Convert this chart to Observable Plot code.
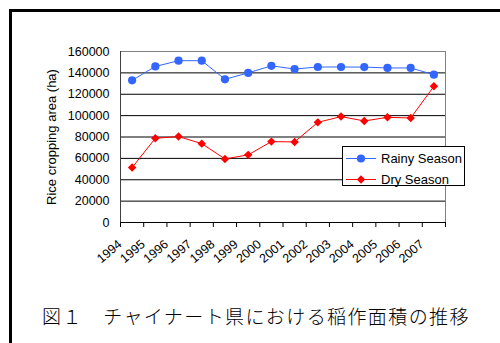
<!DOCTYPE html>
<html><head><meta charset="utf-8">
<script src="https://cdn.jsdelivr.net/npm/d3@7"></script>
<script src="https://cdn.jsdelivr.net/npm/@observablehq/plot@0.6"></script>
<style>
html,body{margin:0;padding:0;background:#fff;width:500px;height:343px;overflow:hidden}
#wrap{position:relative;width:500px;height:343px;font-family:"Liberation Sans",Arial,sans-serif;color:#000}
#border{position:absolute;left:9px;top:9px;width:700px;height:700px;border-left:3px solid #000;border-top:3px solid #000;box-sizing:border-box}
#chart{position:absolute;left:0;top:0}
#ytitle{position:absolute;left:51px;top:137px;transform:translate(-50%,-50%) rotate(-90deg);font-size:13px;white-space:nowrap}
#legend{position:absolute;left:342px;top:146px;width:121px;height:38px;border:1px solid #000;background:#fff}
#legend .row{position:absolute;left:0;height:16px;line-height:16px;font-size:13px;white-space:nowrap}
#legend svg{position:absolute;left:0;top:0}
#caption{position:absolute;left:42px;top:305px;font-family:"Noto Sans CJK JP",sans-serif;font-weight:300;font-size:19px;line-height:22px;letter-spacing:1.4px;white-space:nowrap;color:#000}
</style>
</head><body>
<div id="wrap">
  <div id="border"></div>
  <div id="chart"></div>
  <div id="ytitle"></div>
  <div id="legend"></div>
  <div id="caption"></div>
</div>
<script>
const years = ["1994","1995","1996","1997","1998","1999","2000","2001","2002","2003","2004","2005","2006","2007"];
const rainy = [133000,146000,151400,151400,134000,140000,146600,143600,145500,145500,145400,144600,144600,138300];
const dry = [51400,78800,80400,73800,59500,63300,75700,75400,93700,99100,95000,98400,97800,127400];
const yTicks = [0,20000,40000,60000,80000,100000,120000,140000,160000];
const seriesNames = ["Rainy Season","Dry Season"];
const seriesColors = ["#3366ff","#ff0000"];
const yTitle = "Rice cropping area (ha)";
const captionText = "図１　チャイナート県における稲作面積の推移";

const rows = years.map((y, i) => ({i, year: y, rainy: rainy[i], dry: dry[i]}));
const boundaries = d3.range(years.length + 1);
const cx = d => d.i + 0.5;

const chart = Plot.plot({
  width: 500,
  height: 300,
  marginLeft: 120,
  marginRight: 55,
  marginTop: 51,
  marginBottom: 78,
  style: {fontFamily: "'Liberation Sans', Arial, sans-serif", fontSize: "12.5px", color: "#000", background: "transparent"},
  x: {type: "linear", domain: [0, years.length], axis: null},
  y: {domain: [0, 160000], axis: null},
  marks: [
    Plot.gridY(yTicks, {stroke: "#000", strokeOpacity: 1}),
    Plot.frame({stroke: "#808080"}),
    Plot.ruleX([0], {stroke: "#404040"}),
    Plot.ruleY([0], {stroke: "#000"}),
    Plot.axisX({ticks: boundaries, tickSize: 5, tickFormat: () => "", label: null, stroke: "#000"}),
    Plot.axisY({ticks: yTicks, tickSize: 0, tickPadding: 11, tickFormat: "d", label: null, fontSize: 12.5}),
    Plot.text(rows, {x: cx, frameAnchor: "bottom", text: "year", rotate: -40, textAnchor: "end", lineAnchor: "middle", dx: -12, dy: 20, fontSize: 12.5}),
    Plot.line(rows, {x: cx, y: "rainy", stroke: seriesColors[0], strokeWidth: 1}),
    Plot.dot(rows, {x: cx, y: "rainy", r: 4.1, symbol: "circle", fill: seriesColors[0], stroke: "none"}),
    Plot.line(rows, {x: cx, y: "dry", stroke: seriesColors[1], strokeWidth: 1}),
    Plot.dot(rows, {x: cx, y: "dry", r: 3.8, symbol: "diamond2", fill: seriesColors[1], stroke: "none"})
  ]
});
document.getElementById("chart").appendChild(chart);
document.getElementById("ytitle").textContent = yTitle;
document.getElementById("caption").textContent = captionText;

// legend
const leg = document.getElementById("legend");
const ns = "http://www.w3.org/2000/svg";
const lsvg = document.createElementNS(ns, "svg");
lsvg.setAttribute("width", 121); lsvg.setAttribute("height", 38);
const rowY = [11.5, 32.5];
seriesNames.forEach((name, k) => {
  const line = document.createElementNS(ns, "line");
  line.setAttribute("x1", 3); line.setAttribute("x2", 33);
  line.setAttribute("y1", rowY[k]); line.setAttribute("y2", rowY[k]);
  line.setAttribute("stroke", seriesColors[k]);
  lsvg.appendChild(line);
  const sym = document.createElementNS(ns, "path");
  const gen = d3.symbol(k === 0 ? d3.symbolCircle : d3.symbolDiamond2, k === 0 ? Math.PI * 4.1 * 4.1 : Math.PI * 3.8 * 3.8);
  sym.setAttribute("d", gen());
  sym.setAttribute("transform", `translate(18,${rowY[k]})`);
  sym.setAttribute("fill", seriesColors[k]);
  lsvg.appendChild(sym);
  const t = document.createElement("div");
  t.className = "row";
  t.style.left = "38px";
  t.style.top = (rowY[k] - 8) + "px";
  t.textContent = name;
  leg.appendChild(t);
});
leg.appendChild(lsvg);
</script>
</body></html>
